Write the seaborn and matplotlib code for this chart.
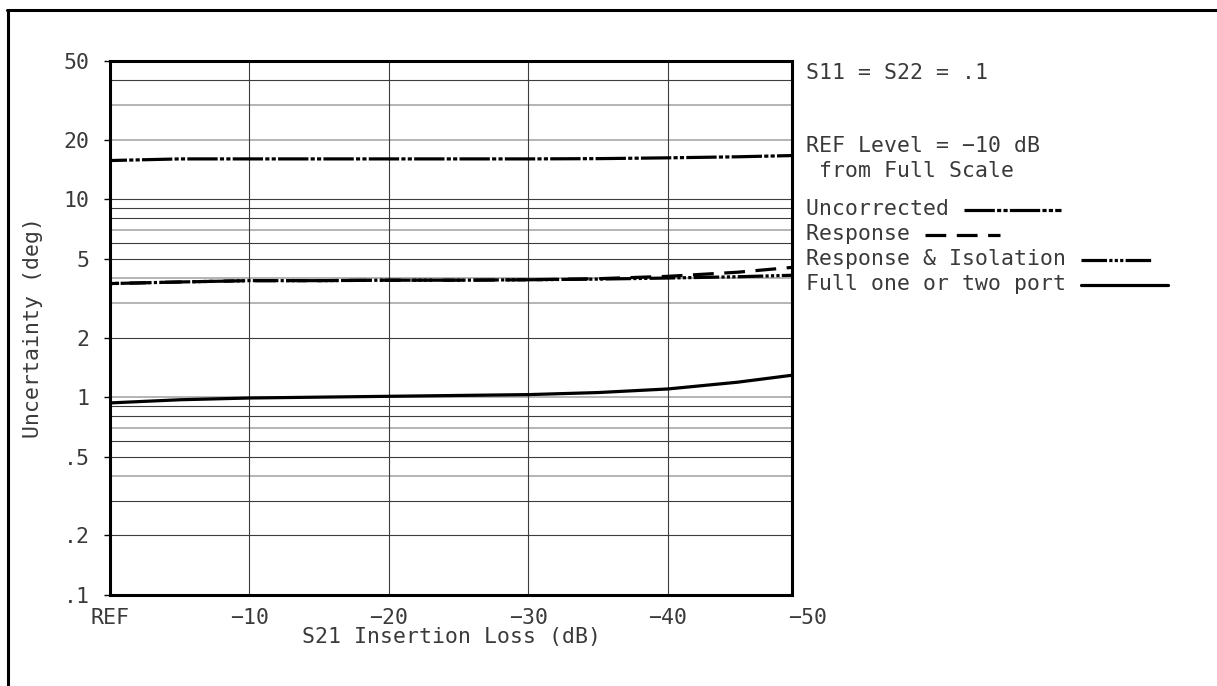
import matplotlib
matplotlib.use("Agg")
import matplotlib.pyplot as plt
import matplotlib.transforms as mtransforms
from matplotlib.lines import Line2D
import numpy as np
import pandas as pd
import seaborn as sns

# data
loss_db = [0, -5, -10, -15, -20, -25, -30, -35, -40, -45, -50]
uncorrected = [15.7, 16.0, 16.0, 16.0, 16.0, 16.0, 16.0, 16.05, 16.2, 16.4, 16.7]
response = [3.75, 3.82, 3.88, 3.88, 3.9, 3.9, 3.92, 3.97, 4.08, 4.28, 4.6]
response_isolation = [3.75, 3.82, 3.88, 3.88, 3.9, 3.9, 3.92, 3.95, 4.0, 4.06, 4.15]
full_port = [0.935, 0.97, 0.99, 1.0, 1.01, 1.02, 1.03, 1.055, 1.1, 1.19, 1.32]

methods = ["Uncorrected", "Response", "Response & Isolation", "Full one or two port"]
series = [uncorrected, response, response_isolation, full_port]

y_ticks = [0.1, 0.2, 0.5, 1, 2, 5, 10, 20, 50]
y_ticklabels = [".1", ".2", ".5", "1", "2", "5", "10", "20", "50"]
y_minor = [0.3, 0.4, 0.6, 0.7, 0.8, 0.9, 3, 4, 6, 7, 8, 9, 30, 40]
y_light = [0.4, 0.7, 1, 3, 4, 7, 20, 30]
x_ticks = [0, -10, -20, -30, -40]
x_ticklabels = ["REF", "\u221210", "\u221220", "\u221230", "\u221240"]
x_last_tick, x_last_label = -50, "\u221250"

notes = ["S11 = S22 = .1", "REF Level = \u221210 dB", " from Full Scale"]

DASHES = {
    "Uncorrected": (9.5, 0.7, 1.3, 0.7, 1.3, 0.7),
    "Response": (6.5, 3.3),
    "Response & Isolation": (8, 0.7, 1, 0.7, 1, 0.7, 1, 0.7),
    "Full one or two port": "",
}
LW = 2.3
FONT = "DejaVu Sans Mono"
TXT = "#3a3a3a"
FS = 15.5

df = pd.DataFrame(
    [
        {"loss": x, "uncertainty": v, "method": m}
        for m, vals in zip(methods, series)
        for x, v in zip(loss_db, vals)
    ]
)

sns.set_style("white")
plt.rcParams["font.family"] = [FONT]

W, H = 1217, 686
fig = plt.figure(figsize=(W / 100, H / 100), dpi=100)
ax = fig.add_axes([110 / W, 1 - 595 / H, (792 - 110) / W, (595 - 61) / H])


def fx(px):
    return px / W


def fy(py):
    return 1 - py / H


ax.set_yscale("log")
ax.set_ylim(0.1, 50)
ax.set_xlim(0, -48.9)

# grid
for v in y_ticks + y_minor:
    light = any(np.isclose(v, l) for l in y_light)
    ax.axhline(v, color="#a8a8a8" if light else "#3c3c3c",
               lw=1.2 if light else 0.8, zorder=1)
for v in x_ticks[1:]:
    ax.axvline(v, color="#3c3c3c", lw=0.8, zorder=1)

sns.lineplot(
    data=df, x="loss", y="uncertainty", style="method", style_order=methods,
    dashes=DASHES, color="black", linewidth=LW, legend=False,
    estimator=None, ax=ax, zorder=3,
)

ax.set_yticks(y_ticks)
ax.set_yticklabels(y_ticklabels)
ax.yaxis.set_minor_locator(matplotlib.ticker.NullLocator())
ax.set_xticks(x_ticks)
ax.set_xticklabels(x_ticklabels)
ax.tick_params(axis="y", direction="out", length=4.5, width=1, left=True,
               pad=10, labelsize=FS, labelcolor=TXT, color="black")
ax.tick_params(axis="x", length=0, pad=9, labelsize=FS, labelcolor=TXT)

xtrans = mtransforms.blended_transform_factory(ax.transData, ax.transAxes)
ax.text(x_last_tick, 0, x_last_label,
        transform=xtrans + mtransforms.ScaledTranslation(0, -9 / 72, fig.dpi_scale_trans),
        ha="center", va="top", fontsize=FS, color=TXT, clip_on=False)

ax.set_xlabel("S21 Insertion Loss (dB)", fontsize=FS, color=TXT, va="center")
ax.set_ylabel("Uncertainty (deg)", fontsize=FS, color=TXT, va="center")
ax.xaxis.set_label_coords(0.5, -(637 - 595) / 534)
ax.yaxis.set_label_coords((33 - 110) / 682, 0.5)

for s in ax.spines.values():
    s.set_linewidth(2.2)
    s.set_color("black")
    s.set_zorder(4)

# outer frame
fig.add_artist(Line2D([fx(7.5), fx(7.5)], [fy(10), 0], color="black", lw=2.2,
                      transform=fig.transFigure))
fig.add_artist(Line2D([fx(6.5), 1], [fy(10), fy(10)], color="black", lw=2.2,
                      transform=fig.transFigure))

# notes and legend on the right
for txt, py in zip(notes, [73, 146, 171]):
    fig.text(fx(806), fy(py), txt, fontsize=FS, color=TXT, va="center", ha="left")

legend_y = [209, 234, 259, 284]
legend_len = [97, 75, 70, 87]
renderer = fig.canvas.get_renderer()
for m, py, ln in zip(methods, legend_y, legend_len):
    t = fig.text(fx(806), fy(py), m + " ", fontsize=FS, color=TXT, va="center", ha="left")
    bb = t.get_window_extent(renderer)
    x0 = bb.x1 + 2
    kw = {"dashes": DASHES[m]} if DASHES[m] else {"linestyle": "-"}
    fig.add_artist(Line2D([fx(x0), fx(x0 + ln)], [fy(py + 1), fy(py + 1)], color="black",
                          lw=LW, transform=fig.transFigure, **kw))

fig.savefig("out.png", dpi=100)
